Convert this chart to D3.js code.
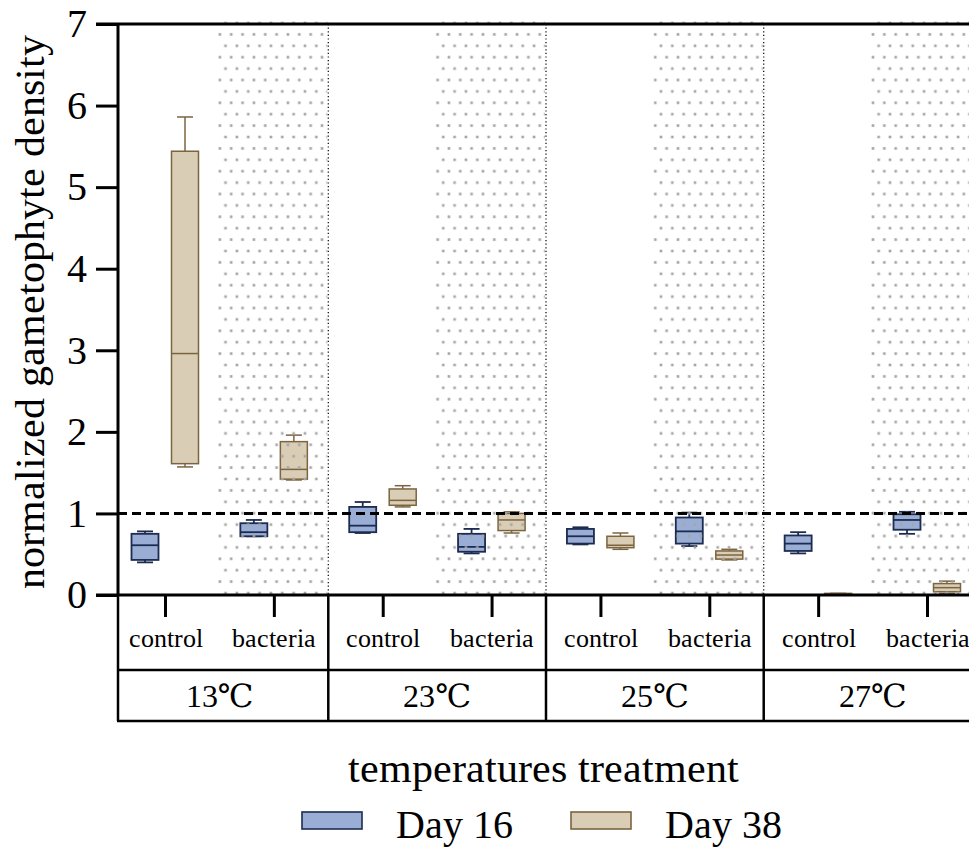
<!DOCTYPE html>
<html>
<head>
<meta charset="utf-8">
<script src="https://cdn.jsdelivr.net/npm/d3@7"></script>
<style>
  @font-face {
    font-family: "RefSerif";
    src: local("Liberation Serif"), local("LiberationSerif"), local("LiberationSerif-Regular"), local("Times New Roman");
  }
  body { margin: 0; background: #fff; }
  svg text { font-family: "RefSerif", "Liberation Serif", "Times New Roman", "DejaVu Serif", serif; fill: #000; }
</style>
</head>
<body>
<div id="chart"></div>
<script>
// DATA
var temps = ["13℃", "23℃", "25℃", "27℃"];
var treatments = ["control", "bacteria"];
var days = ["Day 16", "Day 38"];
var yTicks = [0, 1, 2, 3, 4, 5, 6, 7];
// box stats [min, q1, median, q3, max], order: 13 ctrl, 13 bact, 23 ctrl, 23 bact, ...
var day16 = [
  [0.40, 0.43, 0.61, 0.75, 0.78],
  [0.72, 0.72, 0.77, 0.88, 0.92],
  [0.76, 0.77, 0.85, 1.08, 1.14],
  [0.51, 0.53, 0.59, 0.75, 0.81],
  [0.62, 0.63, 0.72, 0.81, 0.83],
  [0.60, 0.63, 0.78, 0.95, 1.01],
  [0.51, 0.54, 0.63, 0.73, 0.77],
  [0.75, 0.80, 0.92, 0.99, 1.02]
];
var day38 = [
  [1.57, 1.61, 2.96, 5.44, 5.86],
  [1.41, 1.42, 1.54, 1.88, 1.96],
  [1.08, 1.10, 1.16, 1.30, 1.34],
  [0.76, 0.79, 0.92, 1.00, 1.02],
  [0.56, 0.58, 0.61, 0.72, 0.76],
  [0.43, 0.44, 0.49, 0.54, 0.56],
  [0.00, 0.00, 0.01, 0.02, 0.02],
  [0.02, 0.04, 0.09, 0.14, 0.17]
];
var refLine = 1;

//SETUP
var width = 969, height = 847;
var pLeft = 118, pRight = 969, pTop = 24, pBottom = 595;
var serif = "RefSerif, 'Liberation Serif', 'Times New Roman', 'DejaVu Serif', serif";

var svg = d3.select("#chart").append("svg")
  .attr("width", width).attr("height", height)
  .attr("font-family", serif);

// categories temp|treatment
var cats = [];
temps.forEach(function(t){ treatments.forEach(function(tr){ cats.push(t + "|" + tr); }); });

var x = d3.scalePoint().domain(cats).range([165, 927]);
var step = x.step();
var xd = d3.scalePoint().domain(days).range([-20, 20]);
var y = d3.scaleLinear().domain([0, 7]).range([pBottom, pTop]);

var fills = { "Day 16": "#9aaed5", "Day 38": "#dacdb5" };
var strokes = { "Day 16": "#1c2b50", "Day 38": "#7b6440" };

//BOXES
var boxData = [];
cats.forEach(function(c, i){
  boxData.push({ cat: c, day: "Day 16", s: day16[i] });
  boxData.push({ cat: c, day: "Day 38", s: day38[i] });
});

var boxW = 27, capW = 16;
var gBox = svg.append("g").attr("class", "boxes");
var b = gBox.selectAll("g").data(boxData).enter().append("g")
  .attr("transform", function(d){ return "translate(" + (x(d.cat) + xd(d.day)) + ",0)"; })
  .attr("stroke", function(d){ return strokes[d.day]; })
  .attr("stroke-width", function(d){ return d.day === "Day 16" ? 1.8 : 1.5; });

b.append("line").attr("x1", 0).attr("x2", 0)
  .attr("y1", function(d){ return y(d.s[4]); }).attr("y2", function(d){ return y(d.s[3]); });
b.append("line").attr("x1", 0).attr("x2", 0)
  .attr("y1", function(d){ return y(d.s[1]); }).attr("y2", function(d){ return y(d.s[0]); });
b.append("line").attr("x1", -capW/2).attr("x2", capW/2)
  .attr("y1", function(d){ return y(d.s[4]); }).attr("y2", function(d){ return y(d.s[4]); });
b.append("line").attr("x1", -capW/2).attr("x2", capW/2)
  .attr("y1", function(d){ return y(d.s[0]); }).attr("y2", function(d){ return y(d.s[0]); });
b.append("rect").attr("x", -boxW/2).attr("width", boxW)
  .attr("y", function(d){ return y(d.s[3]); })
  .attr("height", function(d){ return Math.max(0.5, y(d.s[1]) - y(d.s[3])); })
  .attr("fill", function(d){ return fills[d.day]; });
b.append("line").attr("x1", -boxW/2).attr("x2", boxW/2)
  .attr("y1", function(d){ return y(d.s[2]); }).attr("y2", function(d){ return y(d.s[2]); });

//DOTTED SHADING OVER BACTERIA COLUMNS (one pattern per column)
var bact = cats.filter(function(c){ return c.split("|")[1] === "bacteria"; });
var defs = svg.append("defs");
bact.forEach(function(c, i){
  var p = defs.append("pattern").attr("id", "dots" + i)
    .attr("patternUnits", "userSpaceOnUse")
    .attr("x", x(c) - 54).attr("y", pTop - 1)
    .attr("width", 11.35).attr("height", 22.8);
  [[5.67, 0], [5.67, 22.8], [0, 11.4], [11.35, 11.4]].forEach(function(pt){
    p.append("rect").attr("x", pt[0] - 1.3).attr("y", pt[1] - 1.3)
      .attr("width", 2.6).attr("height", 2.6).attr("fill", "#a4a4a4");
  });
});
svg.append("g").attr("class", "shade").selectAll("rect").data(bact).enter().append("rect")
  .attr("x", function(c){ return x(c) - 56; })
  .attr("width", function(c){ return Math.min(x(c) + step/2 - 1, pRight) - (x(c) - 56); })
  .attr("y", pTop - 3).attr("height", pBottom - pTop + 3)
  .attr("fill", function(c, i){ return "url(#dots" + i + ")"; });

// dotted separators between temperature groups
var seps = [];
for (var i = 2; i < cats.length; i += 2) { seps.push(x(cats[i]) - step/2); }
svg.append("g").selectAll("line").data(seps).enter().append("line")
  .attr("x1", function(d){ return d; }).attr("x2", function(d){ return d; })
  .attr("y1", pTop).attr("y2", pBottom)
  .attr("stroke", "#000").attr("stroke-width", 1.2).attr("stroke-dasharray", "1.2,2.4");

// reference line at 1
svg.append("line")
  .attr("x1", pLeft).attr("x2", pRight)
  .attr("y1", y(refLine)).attr("y2", y(refLine))
  .attr("stroke", "#000").attr("stroke-width", 3).attr("stroke-dasharray", "9,5");

//Y AXIS
var yAxis = svg.append("g")
  .attr("transform", "translate(" + pLeft + ",0)")
  .call(d3.axisLeft(y).tickValues(yTicks).tickFormat(d3.format("d")).tickSize(22).tickPadding(9));
yAxis.attr("font-family", serif);
yAxis.select(".domain").attr("stroke-width", 3).attr("d", "M0," + pTop + "V" + pBottom);
yAxis.selectAll(".tick line").attr("stroke-width", 3);
yAxis.selectAll(".tick text").attr("font-size", 40);

// top and bottom frame lines
svg.append("line").attr("x1", pLeft - 22).attr("x2", pRight).attr("y1", pTop).attr("y2", pTop)
  .attr("stroke", "#000").attr("stroke-width", 3);
svg.append("line").attr("x1", pLeft - 22).attr("x2", pRight).attr("y1", pBottom).attr("y2", pBottom)
  .attr("stroke", "#000").attr("stroke-width", 3);

//X CATEGORY TABLE
var xAxis = svg.append("g")
  .attr("transform", "translate(0," + pBottom + ")")
  .call(d3.axisBottom(x).tickSize(22).tickFormat(function(d){ return d.split("|")[1]; }));
xAxis.attr("font-family", serif);
xAxis.select(".domain").remove();
xAxis.selectAll(".tick line").attr("stroke-width", 3);
xAxis.selectAll(".tick text").attr("font-size", 25.5)
  .attr("dy", null).attr("y", 52);

var rowY = 670, tableBottom = 721;
svg.append("g").selectAll("line").data([pLeft].concat(seps)).enter().append("line")
  .attr("x1", function(d){ return d; }).attr("x2", function(d){ return d; })
  .attr("y1", pBottom).attr("y2", tableBottom)
  .attr("stroke", "#000").attr("stroke-width", 2.5);
svg.append("g").selectAll("line").data([rowY, tableBottom]).enter().append("line")
  .attr("x1", pLeft - 1).attr("x2", pRight)
  .attr("y1", function(d){ return d; }).attr("y2", function(d){ return d; })
  .attr("stroke", "#000").attr("stroke-width", 2.5);

svg.append("g").selectAll("text").data(temps).enter().append("text")
  .attr("x", function(d, i){ return (x(cats[2*i]) + x(cats[2*i+1])) / 2; })
  .attr("y", 707)
  .attr("text-anchor", "middle")
  .attr("font-size", 32)
  .text(function(d){ return d; });

//TITLES
svg.append("text")
  .attr("x", (pLeft + pRight) / 2).attr("y", 782)
  .attr("text-anchor", "middle").attr("font-size", 42)
  .text("temperatures treatment");

svg.append("text")
  .attr("transform", "translate(44," + ((pTop + pBottom) / 2 + 2) + ") rotate(-90)")
  .attr("text-anchor", "middle").attr("font-size", 42)
  .text("normalized gametophyte density");

//LEGEND
var legX = d3.scalePoint().domain(days).range([302, 571]);
var leg = svg.append("g").selectAll("g").data(days).enter().append("g")
  .attr("transform", function(d){ return "translate(" + legX(d) + ",812)"; });
leg.append("rect").attr("width", 60).attr("height", 17)
  .attr("fill", function(d){ return fills[d]; })
  .attr("stroke", function(d){ return strokes[d]; }).attr("stroke-width", 1.6);
leg.append("text").attr("x", 94).attr("y", 26).attr("font-size", 40)
  .text(function(d){ return d; });
</script>
</body>
</html>
